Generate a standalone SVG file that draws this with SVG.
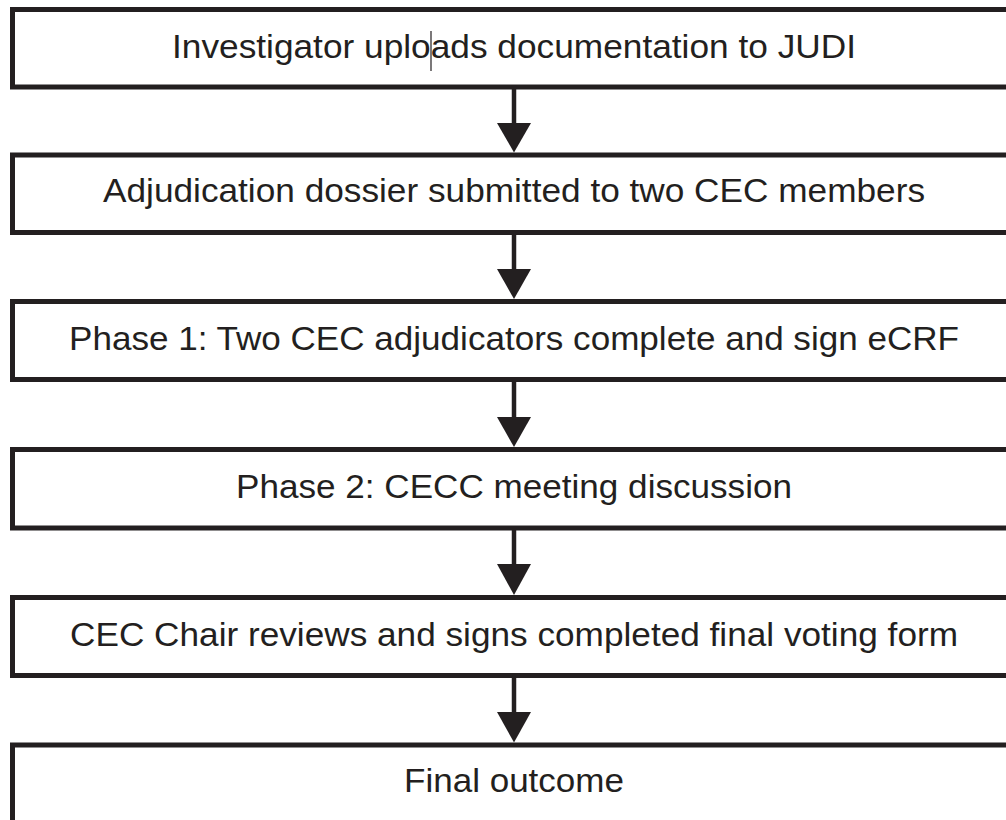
<svg xmlns="http://www.w3.org/2000/svg" width="1006" height="820" viewBox="0 0 1006 820">
<style>
.box{fill:#fff;stroke:#231f20;stroke-width:5}
.lbl{font-family:"Liberation Sans",Arial,sans-serif;font-size:33px;fill:#231f20;text-anchor:middle}
.ln{stroke:#231f20;stroke-width:4.5;fill:none}
.ah{fill:#231f20}
</style>
<rect width="1006" height="820" fill="#fff"/>
<g id="n1"><rect class="box" x="12.5" y="9.5" width="1003" height="77.5"/><text class="lbl" x="514" y="58" textLength="684" lengthAdjust="spacingAndGlyphs">Investigator uploads documentation to JUDI</text><line x1="431" y1="31" x2="431" y2="71" stroke="#231f20" stroke-width="1.2"/></g>
<g id="n2"><rect class="box" x="12.5" y="155" width="1003" height="77.5"/><text class="lbl" x="514" y="202" textLength="822" lengthAdjust="spacingAndGlyphs">Adjudication dossier submitted to two CEC members</text></g>
<g id="n3"><rect class="box" x="12.5" y="301.5" width="1003" height="78"/><text class="lbl" x="514" y="350" textLength="890" lengthAdjust="spacingAndGlyphs">Phase 1: Two CEC adjudicators complete and sign eCRF</text></g>
<g id="n4"><rect class="box" x="12.5" y="449.5" width="1003" height="78.5"/><text class="lbl" x="514" y="498" textLength="556" lengthAdjust="spacingAndGlyphs">Phase 2: CECC meeting discussion</text></g>
<g id="n5"><rect class="box" x="12.5" y="597.5" width="1003" height="78"/><text class="lbl" x="514" y="646" textLength="888" lengthAdjust="spacingAndGlyphs">CEC Chair reviews and signs completed final voting form</text></g>
<g id="n6"><rect class="box" x="12.5" y="745" width="1003" height="90"/><text class="lbl" x="514" y="792" textLength="220" lengthAdjust="spacingAndGlyphs">Final outcome</text></g>
<g id="connectors">
<line class="ln" x1="514" y1="89" x2="514" y2="126"/><polygon class="ah" points="497,123 531,123 514,152.5"/>
<line class="ln" x1="514" y1="235" x2="514" y2="272"/><polygon class="ah" points="497,269 531,269 514,299"/>
<line class="ln" x1="514" y1="382" x2="514" y2="420"/><polygon class="ah" points="497,417 531,417 514,447"/>
<line class="ln" x1="514" y1="530" x2="514" y2="567"/><polygon class="ah" points="497,564 531,564 514,595"/>
<line class="ln" x1="514" y1="678" x2="514" y2="715"/><polygon class="ah" points="497,712 531,712 514,742.5"/>
</g>
</svg>
